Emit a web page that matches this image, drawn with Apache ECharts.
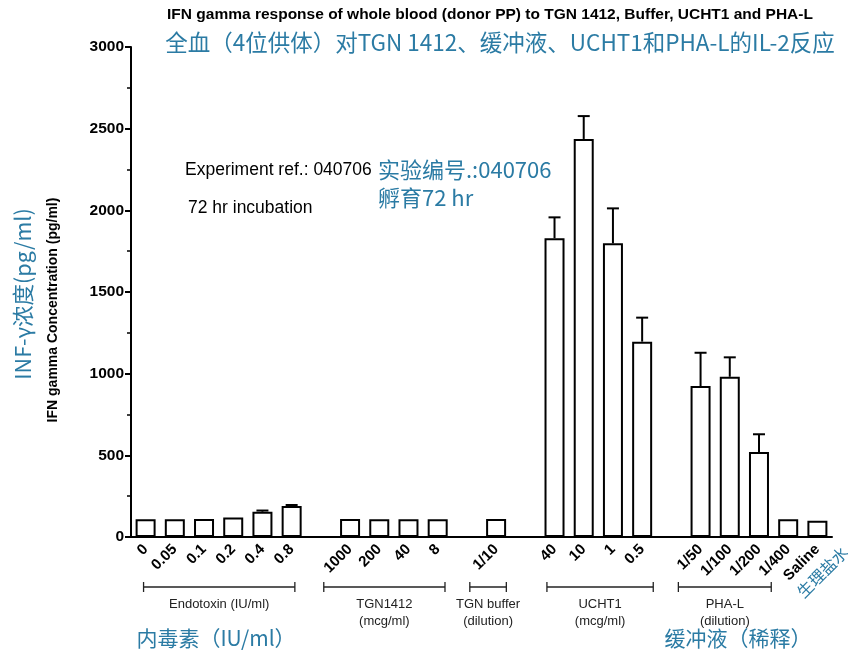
<!DOCTYPE html>
<html><head><meta charset="utf-8">
<script src="https://cdn.jsdelivr.net/npm/echarts@6/dist/echarts.min.js"></script>
<style>html,body{margin:0;padding:0;background:#fff}#c{width:865px;height:667px}</style>
</head><body><div id="c"></div>
<script>
// ---- data ----
const categories = ['0','0.05','0.1','0.2','0.4','0.8','',
  '1000','200','40','8',' ',
  '1/10','  ',
  '40','10','1','0.5','   ',
  '1/50','1/100','1/200','1/400','Saline'];
const means = [108,108,110,120,155,190,null,
  110,108,108,108,null,
  110,null,
  1829,2437,1798,1196,null,
  924,981,520,108,100];
const errUpper = [null,null,null,null,162,196,null,
  null,null,null,null,null,
  null,null,
  1957,2577,2012,1343,null,
  1128,1100,629,null,null];
const yTicks = [0,500,1000,1500,2000,2500,3000];
const groups = [
  {name:'Endotoxin (IU/ml)', from:-0.07, to:5.11},
  {name:'TGN1412\n(mcg/ml)', from:6.1, to:10.25},
  {name:'TGN buffer\n(dilution)', from:11.1, to:12.35},
  {name:'UCHT1\n(mcg/ml)', from:13.74, to:17.38},
  {name:'PHA-L\n(dilution)', from:18.24, to:21.42}
];
const titleEn = 'IFN gamma response of whole blood (donor PP) to TGN 1412, Buffer, UCHT1 and PHA-L';
const titleCn = '全血（4位供体）对TGN 1412、缓冲液、UCHT1和PHA-L的IL-2反应';
const yNameEn = 'IFN gamma Concentration (pg/ml)';
const yNameCn = 'INF-γ浓度(pg/ml)';
const noteEn = ['Experiment ref.: 040706','72 hr incubation'];
const noteCn = ['实验编号.:040706','孵育72 hr'];
const groupCn = ['内毒素（IU/ml）','缓冲液（稀释）'];
const salineCn = '生理盐水';

// ---- chart ----
const BLUE = '#2b7ba4';
const EN = '"Liberation Sans", Arial, sans-serif';
const CN = '"Noto Sans CJK SC", sans-serif';
const chart = echarts.init(document.getElementById('c'), null, {renderer:'canvas'});
const errData = [];
errUpper.forEach((u,i)=>{ if(u!=null) errData.push([i, means[i], u]); });

chart.setOption({
  animation:false,
  backgroundColor:'#fff',
  grid:{left:131, right:33, top:47, bottom:130, containLabel:false},
  xAxis:{
    type:'category', data:categories,
    axisLine:{lineStyle:{color:'#000', width:2}},
    axisTick:{alignWithLabel:true, length:5, lineStyle:{color:'#000', width:1.5}},
    axisLabel:{interval:0, rotate:45, margin:10, color:'#000', fontWeight:'bold', fontSize:15, fontFamily:EN}
  },
  yAxis:{
    type:'value', min:yTicks[0], max:yTicks[yTicks.length-1], interval:yTicks[1]-yTicks[0],
    axisLine:{show:true, lineStyle:{color:'#000', width:2}},
    axisTick:{show:true, length:6, lineStyle:{color:'#000', width:2}},
    minorTick:{show:true, splitNumber:2, length:4, lineStyle:{color:'#000', width:1.5}},
    splitLine:{show:false},
    axisLabel:{color:'#000', fontWeight:'bold', fontSize:15.5, fontFamily:EN, margin:7,
      formatter:v=>String(v)}
  },
  series:[
    {type:'bar', data:means, barWidth:20,
     itemStyle:{color:'#fff', borderColor:'#000', borderWidth:2}},
    {type:'custom', data:errData, encode:{x:0, y:[1,2]}, z:3,
     renderItem:function(params, api){
       const b = api.coord([api.value(0), api.value(1)]);
       const t = api.coord([api.value(0), api.value(2)]);
       return {type:'group', children:[
         {type:'line', shape:{x1:b[0],y1:b[1],x2:t[0],y2:t[1]}, style:{stroke:'#000', lineWidth:2}},
         {type:'line', shape:{x1:t[0]-6,y1:t[1],x2:t[0]+6,y2:t[1]}, style:{stroke:'#000', lineWidth:2}}
       ]};
     }}
  ]
});

const p0 = chart.convertToPixel({xAxisIndex:0}, 0);
const step = chart.convertToPixel({xAxisIndex:0}, 1) - p0;
function px(i){ return p0 + i*step; }
const g = [];
// titles
g.push({type:'text', x:490, y:15, style:{text:titleEn, font:'bold 15.5px '+EN, fill:'#000', align:'center', verticalAlign:'middle'}});
g.push({type:'text', x:500, y:42, style:{text:titleCn, font:'22.5px '+CN, fill:BLUE, align:'center', verticalAlign:'middle'}});
// notes
g.push({type:'text', x:185, y:170, style:{text:noteEn[0], font:'17.5px '+EN, fill:'#000', verticalAlign:'middle'}});
g.push({type:'text', x:188, y:208, style:{text:noteEn[1], font:'17.5px '+EN, fill:'#000', verticalAlign:'middle'}});
g.push({type:'text', x:378, y:170, style:{text:noteCn[0], font:'22px '+CN, fill:BLUE, verticalAlign:'middle'}});
g.push({type:'text', x:378, y:198, style:{text:noteCn[1], font:'22px '+CN, fill:BLUE, verticalAlign:'middle'}});
// y names
g.push({type:'text', x:53, y:310, rotation:Math.PI/2, style:{text:yNameEn, font:'bold 14px '+EN, fill:'#000', align:'center', verticalAlign:'middle'}});
g.push({type:'text', x:23, y:294, rotation:Math.PI/2, style:{text:yNameCn, font:'21.5px '+CN, fill:BLUE, align:'center', verticalAlign:'middle'}});
// group brackets
const by = 587;
groups.forEach(gr=>{
  const x1 = px(gr.from), x2 = px(gr.to);
  g.push({type:'line', shape:{x1:x1,y1:by,x2:x2,y2:by}, style:{stroke:'#222', lineWidth:1.3}});
  g.push({type:'line', shape:{x1:x1,y1:by-5,x2:x1,y2:by+5}, style:{stroke:'#222', lineWidth:1.3}});
  g.push({type:'line', shape:{x1:x2,y1:by-5,x2:x2,y2:by+5}, style:{stroke:'#222', lineWidth:1.3}});
  g.push({type:'text', x:(x1+x2)/2, y:596, style:{text:gr.name, font:'13px '+EN, fill:'#222', align:'center', verticalAlign:'top', lineHeight:17}});
});
// chinese group labels
g.push({type:'text', x:216, y:638, style:{text:groupCn[0], font:'21px '+CN, fill:BLUE, align:'center', verticalAlign:'middle'}});
g.push({type:'text', x:738, y:638, style:{text:groupCn[1], font:'21px '+CN, fill:BLUE, align:'center', verticalAlign:'middle'}});
// saline chinese
const sx = px(categories.length-1);
g.push({type:'text', x:sx+5, y:572, rotation:Math.PI/4, style:{text:salineCn, font:'16px '+CN, fill:BLUE, align:'center', verticalAlign:'middle'}});
chart.setOption({graphic:g});
</script></body></html>
